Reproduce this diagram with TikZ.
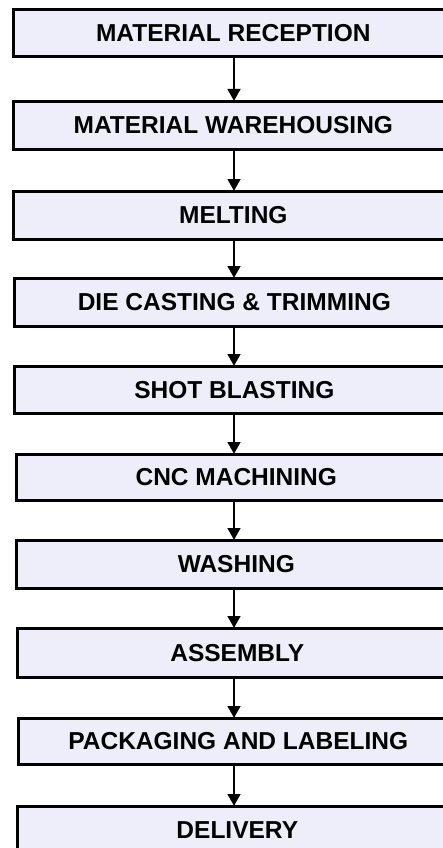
\documentclass[tikz,border=0pt]{standalone}
\usepackage{fontspec}
\setmainfont{Liberation Sans}
\usetikzlibrary{arrows.meta}
\definecolor{boxfill}{RGB}{238,238,250}
\tikzset{
  stage/.style={draw=black, fill=boxfill, line width=2.6pt, rectangle,
    anchor=north west, minimum width=440pt, inner sep=0pt,
    text depth=-2pt,
    font=\fontsize{24.5}{27}\selectfont\bfseries},
  flow/.style={draw=black, line width=2.8pt,
    -{Triangle[length=12pt,width=12.5pt]}, shorten >=-1pt}
}
\begin{document}
\begin{tikzpicture}[x=1pt,y=-1pt]
  \useasboundingbox (0,0) rectangle (443,848);
  \clip (0,0) rectangle (443,848);
  \coordinate (ax) at (234,0);
  \node[stage, minimum height=47pt] (b1)  at (12,8)   {MATERIAL RECEPTION};
  \node[stage, minimum height=48pt] (b2)  at (12,100) {MATERIAL WAREHOUSING};
  \node[stage, minimum height=48pt] (b3)  at (12,190) {MELTING};
  \node[stage, minimum height=48pt] (b4)  at (13,277) {DIE CASTING \& TRIMMING};
  \node[stage, minimum height=47pt] (b5)  at (13,365) {SHOT BLASTING};
  \node[stage, minimum height=46pt] (b6)  at (15,453) {CNC MACHINING};
  \node[stage, minimum height=48pt] (b7)  at (15,539) {WASHING};
  \node[stage, minimum height=49pt] (b8)  at (16,627) {ASSEMBLY};
  \node[stage, minimum height=46pt] (b9)  at (17,717) {PACKAGING AND LABELING};
  \node[stage, minimum height=47pt] (b10) at (16,805) {DELIVERY};
  \foreach \a/\b in {b1/b2,b2/b3,b3/b4,b4/b5,b5/b6,b6/b7,b7/b8,b8/b9,b9/b10}
    \draw[flow] (\a.south -| ax) -- (\b.north -| ax);
\end{tikzpicture}
\end{document}
